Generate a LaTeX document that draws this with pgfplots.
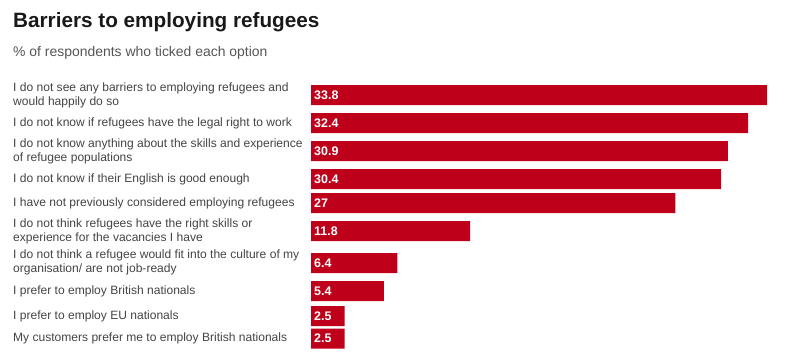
\documentclass[border=0pt]{standalone}
\usepackage{pgfplots}
\usepackage{pgfplotstable}
\usepackage{fontspec}
\setmainfont{Liberation Sans}
\pgfplotsset{compat=1.18}
\definecolor{barred}{RGB}{190,0,26}
\definecolor{labgray}{RGB}{68,68,68}
\definecolor{subgray}{RGB}{85,85,85}
\definecolor{titleblack}{RGB}{25,25,25}
\pgfplotstableread{
val pos lab
33.8 95 33.8
32.4 123 32.4
30.9 151 30.9
30.4 179 30.4
27 203 27
11.8 231 11.8
6.4 263 6.4
5.4 291 5.4
2.5 316 2.5
2.5 338.5 2.5
}\bardata
\begin{document}
\begin{tikzpicture}
\begin{axis}[
  scale only axis,
  width=788bp, height=356bp,
  xmin=-23.052, xmax=35.357,
  ymin=0, ymax=356, y dir=reverse,
  hide axis,
  clip=false,
]
\path (rel axis cs:0,0) rectangle (rel axis cs:1,1);
\addplot[xbar, bar width=20, fill=barred, draw=none] table[x=val, y=pos] {\bardata};
\addplot[draw=none, mark=none, nodes near coords, point meta=explicit symbolic,
  every node near coord/.style={anchor=west, inner sep=0pt, xshift=3bp, text=white, font=\fontsize{12.5}{14}\selectfont\bfseries}]
  table[x expr=0, y=pos, meta=lab] {\bardata};
\node[anchor=base west, inner sep=0pt, text=titleblack, font=\fontsize{20.8}{24}\selectfont\bfseries] at (axis cs:-22.09,28) {Barriers to employing refugees};
\node[anchor=base west, inner sep=0pt, text=subgray, font=\fontsize{14}{16}\selectfont] at (axis cs:-22.09,56) {\% of respondents who ticked each option};
\begin{scope}[every node/.style={anchor=west, inner sep=0pt, align=left, text=labgray, font=\fontsize{12.1}{14}\selectfont}]
\node at (axis cs:-22.09,95) {I do not see any barriers to employing refugees and\\would happily do so};
\node at (axis cs:-22.09,123) {I do not know if refugees have the legal right to work};
\node at (axis cs:-22.09,151) {I do not know anything about the skills and experience\\of refugee populations};
\node at (axis cs:-22.09,179) {I do not know if their English is good enough};
\node at (axis cs:-22.09,203) {I have not previously considered employing refugees};
\node at (axis cs:-22.09,231) {I do not think refugees have the right skills or\\experience for the vacancies I have};
\node at (axis cs:-22.09,262) {I do not think a refugee would fit into the culture of my\\organisation/ are not job-ready};
\node at (axis cs:-22.09,291) {I prefer to employ British nationals};
\node at (axis cs:-22.09,316) {I prefer to employ EU nationals};
\node at (axis cs:-22.09,338.5) {My customers prefer me to employ British nationals};
\end{scope}
\end{axis}
\end{tikzpicture}
\end{document}
